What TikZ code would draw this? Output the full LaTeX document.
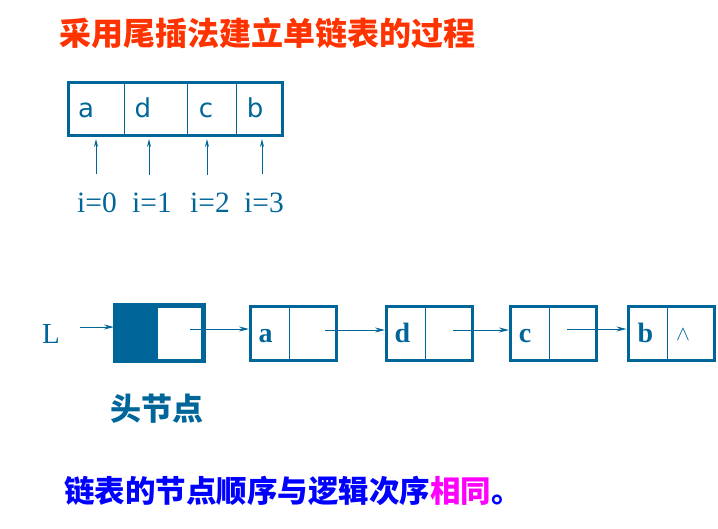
\documentclass[tikz,border=0pt]{standalone}
\usepackage{fontspec}
\setmainfont{Liberation Serif}
\newfontfamily\cjk{Noto Sans CJK SC}
\newfontfamily\sansf{DejaVu Sans}
\usetikzlibrary{arrows.meta}
\definecolor{lblue}{RGB}{0,102,153}
\definecolor{tred}{RGB}{255,51,0}
\definecolor{pblue}{RGB}{0,0,255}
\definecolor{pmag}{RGB}{255,0,255}
\tikzset{
  arr/.style={draw=lblue, line width=1pt, -{Stealth[length=10pt,width=5pt]}},
  varr/.style={draw=lblue, line width=1pt, -{Stealth[length=8pt,width=4pt]}},
  lnode/.style={draw=lblue, line width=3pt, minimum width=86pt, minimum height=54pt, inner sep=0pt},
  cellletter/.style={text=lblue, font=\sansf\fontsize{26}{26}\selectfont, anchor=base, inner sep=0pt},
  idxlabel/.style={text=lblue, font=\fontsize{29.5}{29.5}\selectfont, anchor=base, inner sep=0pt},
  nodeletter/.style={text=lblue, font=\bfseries\fontsize{28}{28}\selectfont, anchor=base, inner sep=0pt},
}
\begin{document}
\begin{tikzpicture}[x=1pt,y=-1pt]
\useasboundingbox (0,0) rectangle (718,528);
% title
\node[anchor=west, inner sep=0pt, text=tred, font=\cjk\bfseries\fontsize{32}{32}\selectfont] (title) at (59,33) {采用尾插法建立单链表的过程};
% array
\node[draw=lblue, line width=3pt, minimum width=214pt, minimum height=53pt, inner sep=0pt] (arr) at (175.5,109) {};
\draw[lblue, line width=1pt] (124,82.5) -- (124,135.5);
\draw[lblue, line width=1pt] (187,82.5) -- (187,135.5);
\draw[lblue, line width=1pt] (236,82.5) -- (236,135.5);
\node[cellletter] (ca) at (86,117) {a};
\node[cellletter] (cd) at (143,117) {d};
\node[cellletter] (cc) at (206,117) {c};
\node[cellletter] (cb) at (255,117) {b};
\node[idxlabel] (i0) at (97,212) {i=0};
\node[idxlabel] (i1) at (152,212) {i=1};
\node[idxlabel] (i2) at (210,212) {i=2};
\node[idxlabel] (i3) at (264,212) {i=3};
\coordinate (t0) at (96,174); \coordinate (h0) at (96,139);
\coordinate (t1) at (149,175); \coordinate (h1) at (149,139);
\coordinate (t2) at (207,175); \coordinate (h2) at (207,139);
\coordinate (t3) at (262,174); \coordinate (h3) at (262,139);
\draw[varr] (t0) -- (h0);
\draw[varr] (t1) -- (h1);
\draw[varr] (t2) -- (h2);
\draw[varr] (t3) -- (h3);
% linked list
\node[anchor=base, inner sep=0pt, text=lblue, font=\fontsize{29}{29}\selectfont] (L) at (51,343) {L};
\coordinate (Lstart) at (80,327);
\node[lnode, minimum width=87pt] (head) at (159,333) {};
\fill[lblue] (head.north west) rectangle (158,361.5);
\draw[lblue, line width=3pt] (head.north west) rectangle (head.south east);
\node[lnode] (na) at (293.5,333.5) {};
\draw[lblue, line width=1pt] (289,307) -- (289,360);
\node[lnode] (nd) at (429.5,333.5) {};
\draw[lblue, line width=1pt] (425,307) -- (425,360);
\node[lnode] (nc) at (553.5,333) {};
\draw[lblue, line width=1pt] (549,306.5) -- (549,359.5);
\node[lnode] (nb) at (671,333) {};
\draw[lblue, line width=1pt] (667,306.5) -- (667,359.5);
\node[nodeletter] (la) at (265.5,342) {a};
\node[nodeletter] (ld) at (402.5,342) {d};
\node[nodeletter] (lc) at (525,342) {c};
\node[nodeletter] (lb) at (645.5,342) {b};
\node[text=lblue, inner sep=0pt, font=\sansf\fontsize{22}{22}\selectfont] (nil) at (683,335) {$\wedge$};
\coordinate (ph) at (190,329);
\coordinate (pa) at (325,330);
\coordinate (pd) at (453,330);
\coordinate (pc) at (567,329);
\draw[arr] (Lstart) -- (Lstart -| head.west);
\draw[arr] (ph) -- (ph -| na.west);
\draw[arr] (pa) -- (pa -| nd.west);
\draw[arr] (pd) -- (pd -| nc.west);
\draw[arr] (pc) -- (pc -| nb.west);
\node[inner sep=0pt, text=lblue, font=\cjk\bfseries\fontsize{31}{31}\selectfont] (hl) at (157,409) {头节点};
% bottom line
\node[anchor=west, inner sep=0pt, font=\cjk\bfseries\fontsize{30.5}{30.5}\selectfont] (note) at (64,491) {\textcolor{pblue}{链表的节点顺序与逻辑次序}\textcolor{pmag}{相同}\textcolor{pblue}{。}};
\end{tikzpicture}
\end{document}
